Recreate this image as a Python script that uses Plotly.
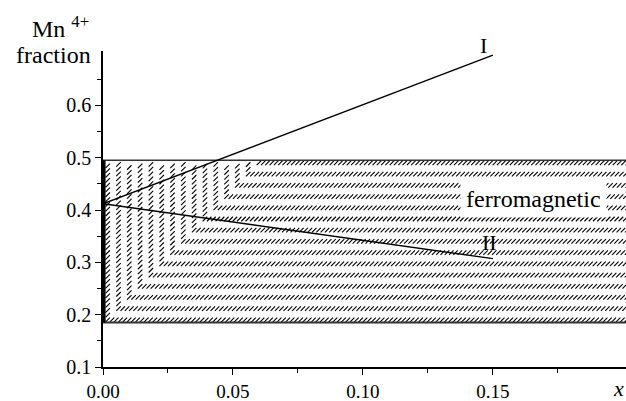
import plotly.graph_objects as go

# ---------------- data ----------------
line_I_x = [0.0, 0.15]
line_I_y = [0.412, 0.696]
line_II_x = [0.0, 0.15]
line_II_y = [0.412, 0.307]

region_top = 0.495
region_bottom = 0.185
region_label = "ferromagnetic"
region_label_pos = (0.1657, 0.4205)

label_I_pos = (0.1463, 0.714)
label_II_pos = (0.1487, 0.337)

x_tickvals = [0.0, 0.05, 0.10, 0.15]
x_ticktext = ["0.00", "0.05", "0.10", "0.15"]
x_minor = [0.025, 0.075, 0.125, 0.175]
y_tickvals = [0.1, 0.2, 0.3, 0.4, 0.5, 0.6]
y_ticktext = ["0.1", "0.2", "0.3", "0.4", "0.5", "0.6"]
y_minor = [0.15, 0.25, 0.35, 0.45, 0.55, 0.65]

X_MAX = 0.2012
Y_MIN, Y_MAX = 0.1, 0.7039

FONT = "Liberation Serif, Times New Roman, serif"

# plot-area geometry (pixels) used to place paper-referenced labels
L, T, PW, PH = 103, 51, 523, 316


def to_paper(xv, yv):
    return xv / X_MAX, (yv - Y_MIN) / (Y_MAX - Y_MIN)


# ---------------- hatch pattern (decorative L-shaped dash stripes) ----------------
n_stripes = 15
row0 = 0.190
row_step = (0.490 - row0) / (n_stripes - 1)
col0 = 0.0018
col_step = (0.060 - col0) / (n_stripes - 1)
dash_dx = 0.00165
dash_dy = 0.0092
hx, hy = [], []
for k in range(n_stripes):
    xc = col0 + k * col_step
    yr = row0 + k * row_step
    y = yr + dash_dy
    while y <= 0.489:
        hx.append(xc); hy.append(y)
        y += dash_dy
    x = xc
    while x <= X_MAX + 0.002:
        hx.append(x); hy.append(yr)
        x += dash_dx

fig = go.Figure()

fig.add_trace(go.Scatter(
    x=hx, y=hy, mode="markers", hoverinfo="skip", showlegend=False,
    marker=dict(symbol="line-ne", size=4.5, color="black",
                line=dict(color="black", width=1.1)),
))

# region borders
fig.add_trace(go.Scatter(x=[0.0, X_MAX + 0.01], y=[region_top, region_top], mode="lines",
                         line=dict(color="#333333", width=1.6), showlegend=False, hoverinfo="skip"))
fig.add_trace(go.Scatter(x=[0.0, X_MAX + 0.01], y=[region_bottom, region_bottom], mode="lines",
                         line=dict(color="#333333", width=1.8), showlegend=False, hoverinfo="skip"))
fig.add_trace(go.Scatter(x=[0.0005, 0.0005], y=[region_bottom, region_top], mode="lines",
                         line=dict(color="black", width=2.6), showlegend=False, hoverinfo="skip"))

# lines I and II
fig.add_trace(go.Scatter(x=line_I_x, y=line_I_y, mode="lines",
                         line=dict(color="black", width=1.4), showlegend=False, hoverinfo="skip"))
fig.add_trace(go.Scatter(x=line_II_x, y=line_II_y, mode="lines",
                         line=dict(color="black", width=1.4), showlegend=False, hoverinfo="skip"))

pI = to_paper(*label_I_pos)
annos = [
    dict(x=pI[0], y=pI[1], xref="paper", yref="paper", text="I",
         xanchor="center", yanchor="middle",
         showarrow=False, font=dict(family=FONT, size=22, color="black")),
    dict(x=label_II_pos[0], y=label_II_pos[1], xref="x", yref="y", text="II",
         xanchor="center", yanchor="middle",
         showarrow=False, font=dict(family=FONT, size=22, color="black")),
    dict(x=region_label_pos[0], y=region_label_pos[1], xref="x", yref="y", text=region_label,
         xanchor="center", yanchor="middle",
         showarrow=False, bgcolor="white", borderpad=5,
         font=dict(family=FONT, size=24, color="black")),
    dict(x=(91 - L) / PW, y=(T + PH - 27) / PH, xref="paper", yref="paper",
         text="Mn <sup>4+</sup>", showarrow=False, xanchor="right", yanchor="middle",
         font=dict(family=FONT, size=24, color="black")),
    dict(x=(93 - L) / PW, y=(T + PH - 55) / PH, xref="paper", yref="paper",
         text="fraction", showarrow=False, xanchor="right", yanchor="middle",
         font=dict(family=FONT, size=24, color="black")),
    dict(x=(618 - L) / PW, y=(T + PH - 388) / PH, xref="paper", yref="paper",
         text="<i>x</i>", showarrow=False, xanchor="center", yanchor="middle",
         font=dict(family=FONT, size=22, color="black")),
]

fig.update_layout(
    width=626, height=401,
    margin=dict(l=L, r=0, t=T, b=401 - T - PH),
    paper_bgcolor="white", plot_bgcolor="white",
    showlegend=False,
    annotations=annos,
    xaxis=dict(range=[0, X_MAX], showgrid=False, zeroline=False, automargin=False,
               showline=True, linecolor="black", linewidth=1.5,
               ticks="outside", ticklen=6, tickwidth=1.3, tickcolor="black",
               tickmode="array", tickvals=x_tickvals, ticktext=x_ticktext,
               tickfont=dict(family=FONT, size=19, color="black"),
               minor=dict(tickvals=x_minor, ticks="outside", ticklen=4,
                          tickwidth=1.3, tickcolor="black")),
    yaxis=dict(range=[Y_MIN, Y_MAX], showgrid=False, zeroline=False, automargin=False,
               showline=True, linecolor="black", linewidth=1.5,
               ticks="outside", ticklen=6, tickwidth=1.3, tickcolor="black",
               tickmode="array", tickvals=y_tickvals, ticktext=y_ticktext,
               tickfont=dict(family=FONT, size=20, color="black"),
               minor=dict(tickvals=y_minor, ticks="outside", ticklen=4,
                          tickwidth=1.3, tickcolor="black")),
)

fig.write_html("out.html")
